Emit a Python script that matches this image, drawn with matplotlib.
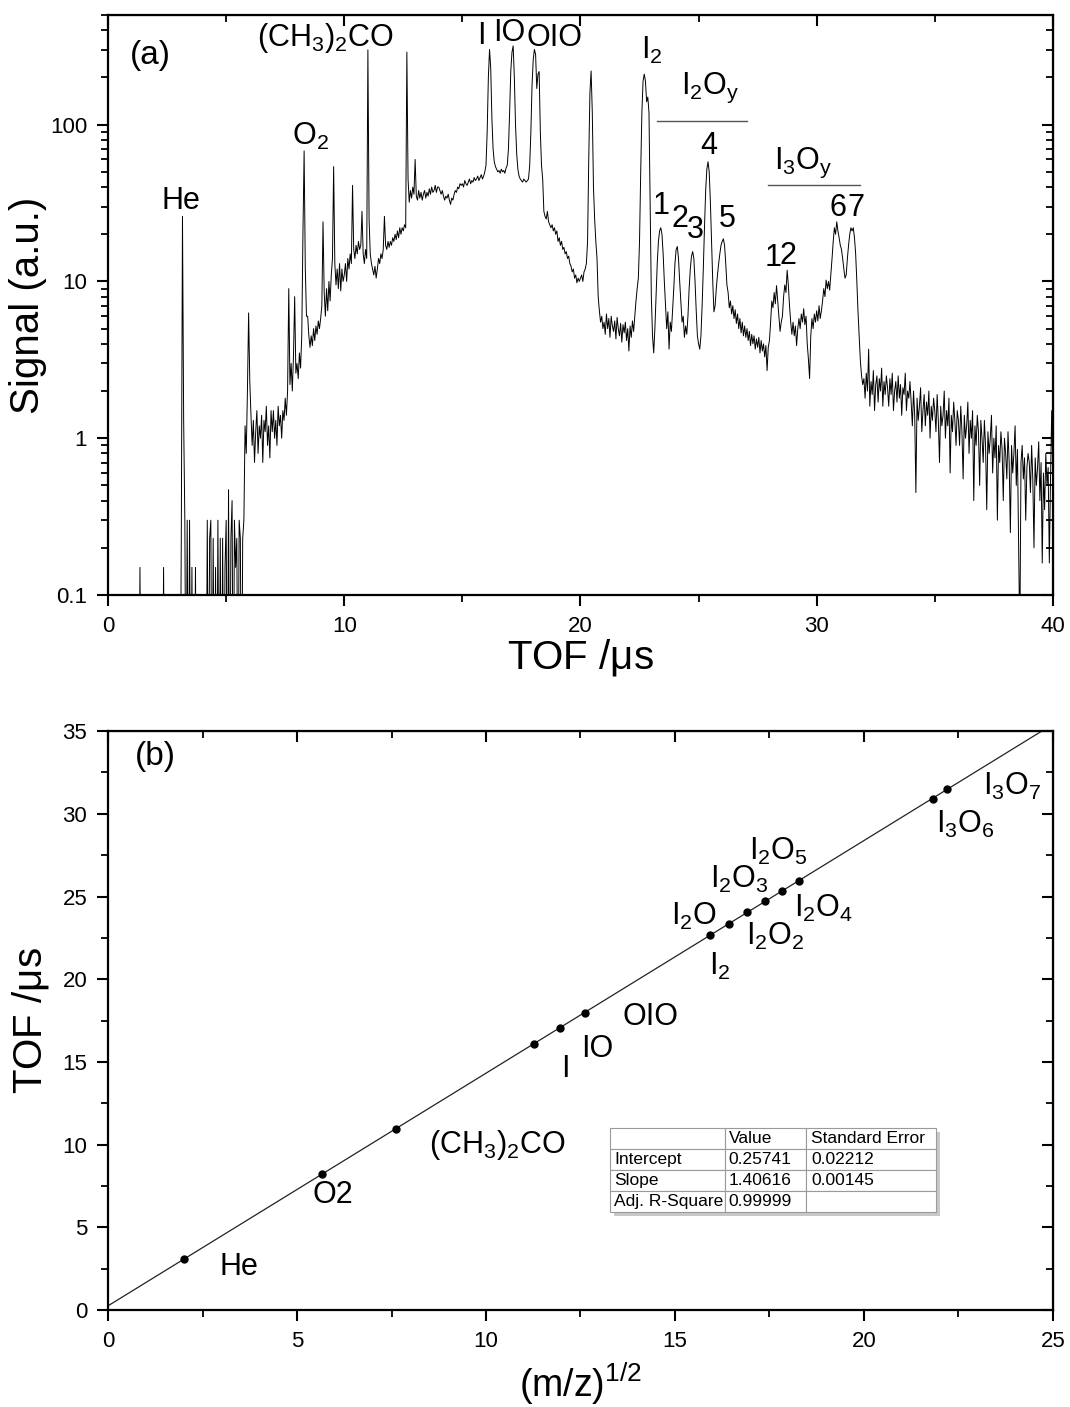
import numpy as np
import matplotlib
matplotlib.use("Agg")
import matplotlib.pyplot as plt
from matplotlib.ticker import MultipleLocator, LogLocator, NullFormatter
from matplotlib.patches import Rectangle

plt.rcParams['font.family'] = ['Liberation Sans', 'DejaVu Sans']
plt.rcParams['mathtext.default'] = 'regular'

# ---- panel (a): TOF spectrum, one value every 0.05 us starting at 0 ----
tof_step = 0.05
signal = [
    # 0 - 10 us
    0.01, 0.01, 0.01, 0.01, 0.01, 0.01, 0.01, 0.01, 0.01, 0.01, 0.01, 0.01, 0.01, 0.01, 0.01, 0.01, 0.01, 0.01, 0.01, 0.01,
    0.01, 0.01, 0.01, 0.01, 0.01, 0.01, 0.01, 0.15, 0.01, 0.01, 0.01, 0.01, 0.01, 0.01, 0.01, 0.01, 0.01, 0.01, 0.01, 0.01,
    0.01, 0.01, 0.01, 0.01, 0.01, 0.01, 0.01, 0.15, 0.01, 0.01, 0.01, 0.01, 0.01, 0.01, 0.01, 0.01, 0.01, 0.01, 0.01, 0.01,
    0.01, 0.01, 0.23, 26, 1.3, 0.3, 0.01, 0.3, 0.01, 0.3, 0.01, 0.15, 0.01, 0.01, 0.15, 0.01, 0.01, 0.01, 0.01, 0.01,
    0.01, 0.01, 0.01, 0.01, 0.3, 0.01, 0.23, 0.3, 0.01, 0.23, 0.01, 0.15, 0.01, 0.3, 0.01, 0.23, 0.01, 0.23, 0.01, 0.15,
    0.3, 0.01, 0.47, 0.01, 0.23, 0.4, 0.01, 0.3, 0.15, 0.23, 0.01, 0.3, 0.23, 0.01, 0.23, 0.3, 1.2, 0.8, 2.0, 6.3,
    2.3, 1.4, 0.9, 1.3, 0.7, 1.1, 1.5, 0.8, 1.2, 1.0, 1.4, 0.7, 1.3, 1.1, 1.6, 0.9, 1.2, 0.75, 1.5, 1.1,
    1.5, 1.0, 1.3, 0.9, 1.6, 1.2, 1.4, 1.0, 1.5, 1.3, 1.8, 1.4, 2.0, 9.0, 2.2, 3.0, 2.0, 3.4, 8.0, 2.6,
    3.0, 2.4, 3.5, 2.8, 4.5, 20, 68, 12, 6.0, 6.0, 4.5, 3.8, 4.5, 3.9, 5.0, 4.2, 5.2, 4.6, 5.6, 5.0,
    5.8, 7.0, 24, 8.5, 6.0, 9.0, 6.5, 10, 7.5, 11, 14, 54, 13, 9.5, 12, 9.0, 13, 8.7, 12, 10,
    # 10 - 20 us
    11, 13, 10, 14, 12, 15, 13, 41, 16, 14, 17, 15, 18, 16, 17, 28, 15, 13, 16, 14,
    300, 25, 15, 13, 12, 11, 12.5, 10.5, 12, 14, 13, 15, 14, 16, 26, 17, 16, 18, 16.5, 18,
    17, 19, 18, 20, 18.5, 21, 19, 22, 20, 22, 21, 23, 22, 290, 45, 32, 38, 34, 40, 36,
    60, 35, 33, 38, 34, 37, 33, 36, 38, 34, 37, 35, 39, 36, 40, 37, 38, 41, 37, 40,
    40, 38, 36, 38, 35, 33, 35, 34, 36, 33, 31, 34, 33, 36, 38, 37, 40, 39, 42, 41,
    42, 40, 44, 42, 41, 43, 45, 42, 44, 43, 46, 44, 45, 47, 44, 46, 48, 45, 47, 50,
    55, 90, 200, 302, 230, 110, 70, 58, 54, 52, 50, 51, 49, 52, 50, 51, 49, 53, 55, 70,
    120, 220, 290, 318, 200, 100, 65, 52, 47, 45, 44, 43, 45, 44, 43, 44, 45, 55, 90, 180,
    260, 302, 280, 170, 210, 218, 91, 55, 45, 28, 26, 25, 28, 24, 23, 22, 23, 21, 22, 20,
    21, 18, 19, 17, 18, 16, 16.5, 15, 15.5, 14, 14.5, 13, 12.5, 11.5, 12, 10.5, 11, 9.8, 10.5, 10,
    # 20 - 30 us
    10.5, 11, 10, 11.5, 12, 13, 18, 60, 160, 220, 120, 40, 25, 18, 14, 8, 6.5, 5.5, 6, 5,
    5.5, 4.6, 6.2, 5.0, 5.8, 4.4, 6.0, 5.2, 4.8, 5.6, 4.3, 5.9, 5.0, 4.5, 5.4, 4.1, 5.3, 4.7, 5.5, 4.2,
    5.0, 3.6, 5.2, 4.4, 5.6, 4.8, 6.0, 7.5, 9.0, 10.5, 18, 50, 120, 190, 210, 190, 140, 150, 120, 30,
    8, 4.5, 3.5, 5, 8, 13, 18, 21, 22, 20, 15, 10, 7, 5, 6.4, 3.7, 5.5, 4.8, 6.5, 9,
    13, 16, 16.7, 14, 10, 7.5, 5.5, 6, 4.4, 5.2, 4.6, 6, 9, 12, 14.5, 15.5, 14, 10, 6.5, 4.5,
    4.0, 3.7, 4.5, 7, 12, 22, 38, 52, 58, 50, 32, 18, 10, 6.4, 7, 9, 11, 13, 15, 17,
    18, 18.7, 17, 13, 9.5, 8.5, 6.8, 7.5, 6.2, 7, 5.8, 6.6, 5.4, 6.2, 5.0, 5.8, 4.7, 5.5, 4.5, 5.2,
    4.4, 5.0, 4.2, 4.8, 3.9, 4.6, 4.0, 4.5, 3.7, 4.3, 3.8, 4.4, 3.5, 4.2, 3.6, 4.0, 3.3, 3.9, 2.7, 3.8,
    4.2, 5.5, 7.5, 6.8, 8.5, 7.2, 9.4, 7.5, 6.0, 4.8, 5.5, 6.0, 8.0, 9.5, 8.5, 11.8, 9.5, 7.0, 5.5, 4.6,
    5.5, 4.5, 5.2, 3.9, 5.0, 5.8, 5.0, 6.2, 5.5, 6.7, 5.3, 6.0, 4.0, 3.2, 2.4, 4.5, 5.8, 5.0, 6.2, 5.5,
    # 30 - 40 us
    6.5, 5.6, 7.0, 5.8, 6.5, 7.5, 9, 8, 10.2, 9, 10, 8.8, 11, 14, 18, 22, 20, 24, 21, 19,
    17, 16, 14, 12, 10.5, 11, 14, 17, 20, 22, 21, 22, 19, 15, 10, 6.4, 4.5, 3.1, 2.5, 2.2,
    2.4, 1.8, 2.6, 2.0, 3.7, 1.6, 2.3, 1.9, 2.7, 1.5, 2.2, 2.5, 1.7, 2.4, 2.0, 2.8, 1.6, 2.3, 1.9, 2.5,
    2.1, 1.6, 2.4, 1.9, 2.6, 1.5, 2.0, 2.3, 1.7, 2.5, 1.8, 2.2, 1.4, 2.1, 1.9, 2.6, 1.5, 2.0, 1.8, 2.3,
    1.7, 1.2, 2.0, 1.4, 0.45, 1.8, 1.3, 1.6, 2.1, 1.1, 1.5, 1.9, 1.2, 1.7, 1.4, 2.0, 1.0, 1.6, 1.3, 1.8,
    1.5, 1.1, 1.9, 1.3, 0.7, 1.6, 1.2, 1.4, 2.0, 1.0, 1.5, 1.2, 1.8, 0.6, 1.4, 1.1, 1.7, 1.3, 0.9, 1.5,
    1.3, 0.9, 1.6, 1.1, 0.55, 1.4, 1.0, 1.2, 1.7, 0.8, 1.3, 1.0, 1.5, 0.4, 1.2, 0.9, 1.4, 1.1, 0.5, 1.3,
    1.0, 0.7, 1.3, 0.9, 0.35, 1.1, 0.8, 1.0, 1.4, 0.6, 1.0, 0.75, 1.2, 0.3, 0.9, 0.7, 1.1, 0.85, 0.4, 1.0,
    0.8, 0.55, 1.1, 0.7, 0.25, 0.9, 0.6, 0.8, 1.2, 0.5, 0.85, 0.2, 0.05, 0.7, 0.9, 0.55, 0.75, 0.3, 0.65, 0.8,
    0.7, 0.45, 0.9, 0.55, 0.2, 0.75, 0.5, 0.65, 0.95, 0.4, 0.7, 0.16, 0.6, 0.35, 0.8, 0.5, 0.65, 0.16, 0.55, 1.5,
    0.6,
]

# peak labels: (text, TOF, signal at text baseline)
peak_labels = [
    ("He", 3.08, 29),
    (r"O$_2$", 8.55, 74),
    (r"(CH$_3$)$_2$CO", 9.2, 316),
    ("I", 15.8, 328),
    ("IO", 17.0, 340),
    ("OIO", 18.9, 316),
    (r"I$_2$", 23.0, 263),
    (r"I$_2$O$_y$", 25.5, 158),
    ("1", 23.4, 27), ("2", 24.2, 22.4), ("3", 24.88, 18.8),
    ("4", 25.43, 65), ("5", 26.23, 22.4),
    (r"I$_3$O$_y$", 29.44, 52),
    ("1", 28.17, 12.6), ("2", 28.8, 13),
    ("6", 30.92, 26), ("7", 31.64, 26),
]
group_lines = [(23.23, 27.07, 106), (27.96, 31.85, 41.5)]

# ---- panel (b): calibration ----
sqrt_mz = [2.00, 5.66, 7.62, 11.27, 11.96, 12.61, 15.94, 16.43, 16.91, 17.38, 17.83, 18.28, 21.84, 22.20]
tof_peak = [3.07, 8.20, 10.97, 16.10, 17.05, 17.98, 22.67, 23.36, 24.04, 24.70, 25.33, 25.96, 30.90, 31.47]
fit_intercept = 0.25741
fit_slope = 1.40616

cal_labels = [
    ("He", 2.96, 2.12),
    ("O2", 5.41, 6.47),
    (r"(CH$_3$)$_2$CO", 8.5, 9.49),
    ("I", 11.98, 14.1),
    ("IO", 12.51, 15.3),
    ("OIO", 13.62, 17.23),
    (r"I$_2$", 15.9, 20.25),
    (r"I$_2$O", 14.9, 23.28),
    (r"I$_2$O$_2$", 16.87, 22.07),
    (r"I$_2$O$_3$", 15.94, 25.51),
    (r"I$_2$O$_5$", 16.95, 27.2),
    (r"I$_2$O$_4$", 18.14, 23.76),
    (r"I$_3$O$_6$", 21.91, 28.84),
    (r"I$_3$O$_7$", 23.15, 31.13),
]

table_cols = ["", "Value", "Standard Error"]
table_rows = [
    ["Intercept", "0.25741", "0.02212"],
    ["Slope", "1.40616", "0.00145"],
    ["Adj. R-Square", "0.99999", ""],
]


def style_axes(ax):
    for s in ax.spines.values():
        s.set_linewidth(1.6)
    ax.tick_params(which='major', direction='out', length=8, width=1.5, labelsize=16, pad=7)
    ax.tick_params(which='minor', direction='out', length=5, width=1.3)


def inner_ticks(sec, which_side):
    kw = {which_side: False}
    sec.tick_params(which='major', direction='in', length=8, width=1.5, **kw)
    sec.tick_params(which='minor', direction='in', length=5, width=1.3, **kw)


fig = plt.figure(figsize=(10.7, 14.07), dpi=100)

# ---------- (a) ----------
ax1 = fig.add_axes([0.101, 0.5771, 0.883, 0.4122])
tof = np.arange(len(signal)) * tof_step
ax1.plot(tof, signal, color='black', lw=0.7)
ax1.set_yscale('log')
ax1.set_xlim(0, 40)
ax1.set_ylim(0.1, 500)
ax1.xaxis.set_major_locator(MultipleLocator(10))
ax1.xaxis.set_minor_locator(MultipleLocator(5))
ax1.yaxis.set_minor_locator(LogLocator(base=10, subs=np.arange(2, 10), numticks=20))
ax1.yaxis.set_minor_formatter(NullFormatter())
ax1.set_yticks([0.1, 1, 10, 100])
ax1.set_yticklabels(["0.1", "1", "10", "100"])
style_axes(ax1)
sx = ax1.secondary_xaxis('top')
sx.xaxis.set_major_locator(MultipleLocator(10))
sx.xaxis.set_minor_locator(MultipleLocator(5))
inner_ticks(sx, 'labeltop')
sy = ax1.secondary_yaxis('right')
sy.set_yticks([0.1, 1, 10, 100])
sy.yaxis.set_minor_formatter(NullFormatter())
inner_ticks(sy, 'labelright')

ax1.set_xlabel(r"TOF /$\mu$s", fontsize=29, labelpad=0)
ax1.set_ylabel("Signal (a.u.)", fontsize=29, labelpad=2)
ax1.text(0.93, 245, "(a)", fontsize=24, ha='left', va='baseline')
for txt, t, s in peak_labels:
    ax1.text(t, s, txt, fontsize=22, ha='center', va='baseline')
for t0, t1, s in group_lines:
    ax1.plot([t0, t1], [s, s], color='#555555', lw=1.0)

# ---------- (b) ----------
ax2 = fig.add_axes([0.101, 0.0689, 0.883, 0.4115])
xfit = np.array([0, 25])
ax2.plot(xfit, fit_intercept + fit_slope * xfit, color='#222222', lw=0.9)
ax2.plot(sqrt_mz, tof_peak, 'o', color='black', ms=5)
ax2.set_xlim(0, 25)
ax2.set_ylim(0, 35)
ax2.xaxis.set_major_locator(MultipleLocator(5))
ax2.xaxis.set_minor_locator(MultipleLocator(2.5))
ax2.yaxis.set_major_locator(MultipleLocator(5))
ax2.yaxis.set_minor_locator(MultipleLocator(2.5))
style_axes(ax2)
sx2 = ax2.secondary_xaxis('top')
sx2.xaxis.set_major_locator(MultipleLocator(5))
sx2.xaxis.set_minor_locator(MultipleLocator(2.5))
inner_ticks(sx2, 'labeltop')
sy2 = ax2.secondary_yaxis('right')
sy2.yaxis.set_major_locator(MultipleLocator(5))
sy2.yaxis.set_minor_locator(MultipleLocator(2.5))
inner_ticks(sy2, 'labelright')

ax2.set_xlabel(r"(m/z)$^{1/2}$", fontsize=27, labelpad=6)
ax2.set_ylabel(r"TOF /$\mu$s", fontsize=29, labelpad=8)
ax2.text(0.71, 32.95, "(b)", fontsize=24, ha='left', va='baseline')
for txt, x, y in cal_labels:
    ax2.text(x, y, txt, fontsize=22, ha='left', va='baseline')

# fit result table with a light drop shadow
tb = [0.531, 0.169, 0.345, 0.145]
ax2.add_patch(Rectangle((tb[0] + 0.005, tb[1] - 0.007), tb[2], tb[3], transform=ax2.transAxes,
                        facecolor='#c8c8c8', edgecolor='none', zorder=4))
tab = ax2.table(cellText=[table_cols] + table_rows, cellLoc='left',
                colWidths=[116, 81, 130], bbox=tb, zorder=5)
tab.auto_set_font_size(False)
tab.set_fontsize(12.5)
for cell in tab.get_celld().values():
    cell.set_edgecolor('#9a9a9a')
    cell.set_linewidth(0.8)
    cell.set_facecolor('white')
    cell.PAD = 0.04

fig.savefig("out.png", dpi=100)
